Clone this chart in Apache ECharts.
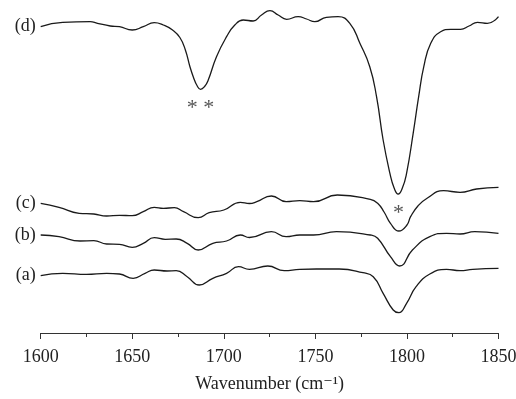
<!DOCTYPE html>
<html>
<head>
<meta charset="utf-8">
<script src="https://cdn.jsdelivr.net/npm/echarts@6/dist/echarts.min.js"></script>
<style>
  html, body { margin: 0; padding: 0; background: #fff; }
  #chart { width: 516px; height: 399px; }
</style>
</head>
<body>
<div id="chart"></div>
<script>
// spectra, arbitrary offset units
var waveA = [1600,1612,1625,1636,1643,1650.5,1657,1662,1669,1674,1680,1686.6,1694,1701.5,1708,1714,1724,1733,1741.5,1750.6,1763,1776,1781.6,1787,1792.5,1795.6,1799.8,1805,1812.5,1821.6,1829,1836,1850];
var valA  = [0.573,0.597,0.587,0.597,0.59,0.547,0.597,0.63,0.62,0.623,0.563,0.48,0.547,0.597,0.663,0.637,0.67,0.623,0.637,0.64,0.64,0.603,0.563,0.397,0.23,0.203,0.297,0.463,0.59,0.637,0.623,0.637,0.647];

var waveB = [1600,1610,1621.5,1629,1636,1643,1650,1656,1662,1668,1674,1680,1686,1694,1701.5,1709,1714,1726,1734,1741.5,1749,1761.5,1780,1784,1791,1796,1803,1812.5,1821.6,1829,1837,1850];
var valB  = [0.98,0.963,0.92,0.923,0.89,0.887,0.857,0.897,0.953,0.937,0.94,0.897,0.83,0.897,0.92,0.98,0.955,1.013,0.963,0.98,0.98,1.013,0.98,0.947,0.763,0.67,0.83,0.963,0.997,0.99,1.013,0.997];

var waveC = [1600,1610,1621,1629,1636,1643,1650,1656,1662,1667,1673,1678,1686,1692,1700,1709,1714,1718,1726,1734,1741.5,1749,1762,1780,1784,1787.5,1791,1795.6,1800,1802,1806,1811,1820,1829,1838,1850];
var valC  = [1.297,1.257,1.197,1.19,1.17,1.177,1.173,1.213,1.257,1.247,1.253,1.213,1.153,1.203,1.23,1.307,1.295,1.313,1.37,1.313,1.323,1.313,1.38,1.337,1.297,1.21,1.097,1.02,1.08,1.163,1.27,1.347,1.423,1.407,1.44,1.457];

var waveD = [1600,1612,1627,1631,1638,1643,1650,1656,1662,1667,1672,1676,1679,1681.5,1683.3,1685.5,1687.3,1689.5,1691.5,1696,1701.5,1706,1710.6,1716,1720.6,1725.2,1729.7,1734.3,1740.6,1745.2,1749.7,1756,1762.4,1768.8,1774.3,1779.7,1783.4,1787,1790.7,1793,1795.2,1797.5,1799.8,1803.4,1806.4,1809.2,1813,1818.4,1823.9,1829.3,1833.9,1838.5,1843.9,1850];
var valD  = [3.063,3.107,3.113,3.097,3.07,3.063,3.03,3.063,3.103,3.08,3.03,2.955,2.83,2.663,2.563,2.47,2.437,2.465,2.53,2.763,2.963,3.08,3.13,3.12,3.18,3.223,3.18,3.137,3.163,3.14,3.113,3.157,3.163,3.097,2.897,2.663,2.363,1.93,1.597,1.45,1.39,1.45,1.597,1.997,2.363,2.663,2.897,3.013,3.037,3.037,3.07,3.107,3.097,3.163];

var xTicks = [1600, 1650, 1700, 1750, 1800, 1850];
var labels = ['(a)', '(b)', '(c)', '(d)'];

var serif = '"Liberation Serif", "DejaVu Serif", serif';

function pairs(w, v) {
    return w.map(function(x, i) { return [x, v[i]]; });
}

function spectrum(name, w, v, extra) {
    var marks = [{
        coord: [w[0], v[0]],
        label: { show: true, formatter: name, position: 'left', distance: 5,
                 color: '#222', fontSize: 18, fontFamily: serif }
    }].concat(extra || []);
    return {
        name: name,
        type: 'line',
        data: pairs(w, v),
        smooth: 0.5,
        showSymbol: false,
        silent: true,
        lineStyle: { color: '#1a1a1a', width: 1.3 },
        markPoint: { symbol: 'circle', symbolSize: 0, silent: true, data: marks }
    };
}

var starLabel = function(txt) {
    return { show: true, formatter: txt, position: 'bottom', distance: 8,
             color: '#555', fontSize: 22, fontFamily: serif };
};

var option = {
    animation: false,
    backgroundColor: '#fff',
    grid: { left: 40.7, right: 17.5, top: 0, bottom: 66, outerBoundsMode: 'none', containLabel: false },
    xAxis: {
        type: 'value',
        min: 1600,
        max: 1850,
        interval: 50,
        name: 'Wavenumber (cm\u207B\u00B9)',
        nameLocation: 'middle',
        nameGap: 42,
        nameTextStyle: { color: '#222', fontSize: 18, fontFamily: serif },
        axisLine: { lineStyle: { color: '#333', width: 1 } },
        axisTick: { show: true, inside: false, length: 6, lineStyle: { color: '#333' } },
        minorTick: { show: true, splitNumber: 2, length: 4, lineStyle: { color: '#333' } },
        splitLine: { show: false },
        axisLabel: {
            margin: 15, color: '#222', fontSize: 18, fontFamily: serif,
            formatter: function(v) { return xTicks.indexOf(v) >= 0 ? String(v) : ''; }
        }
    },
    yAxis: {
        type: 'value',
        min: 0,
        max: 3.33,
        show: false,
        splitLine: { show: false }
    },
    series: [
        spectrum(labels[0], waveA, valA),
        spectrum(labels[1], waveB, valB),
        spectrum(labels[2], waveC, valC),
        spectrum(labels[3], waveD, valD, [
            { coord: [1687.3, 2.437], label: starLabel('* *') },
            { coord: [1795.4, 1.39], label: starLabel('*') }
        ])
    ]
};

var myChart = echarts.init(document.getElementById('chart'));
myChart.setOption(option);
</script>
</body>
</html>
